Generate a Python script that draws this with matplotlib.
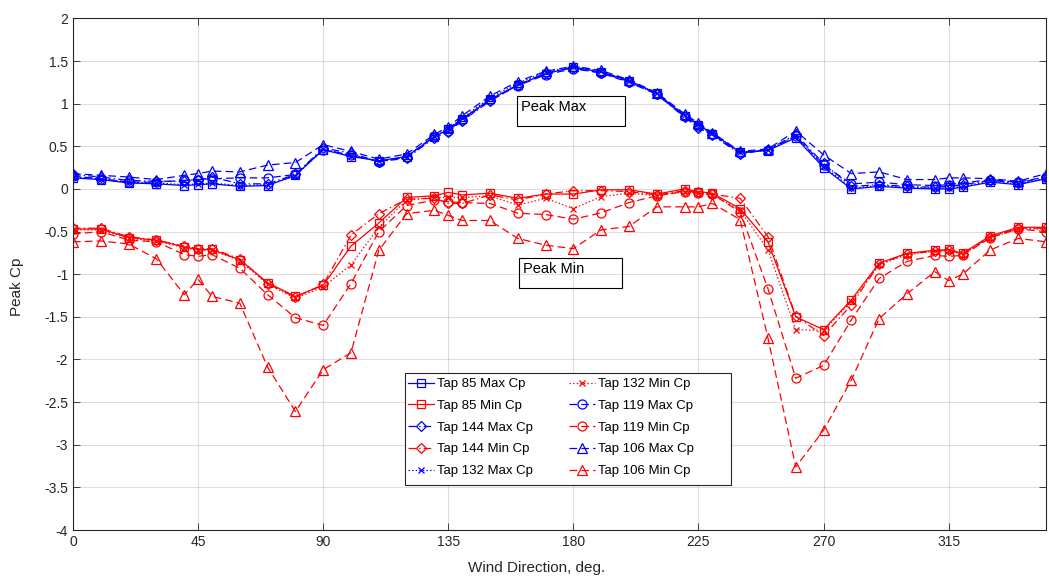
import matplotlib
matplotlib.use("Agg")
import matplotlib.pyplot as plt
from matplotlib.patches import Rectangle

plt.rcParams['font.family'] = ['Liberation Sans', 'DejaVu Sans']
plt.rcParams['lines.scale_dashes'] = False

# wind directions (deg)
angles = [0, 10, 20, 30, 40, 45, 50, 60, 70, 80, 90, 100, 110, 120, 130, 135, 140,
          150, 160, 170, 180, 190, 200, 210, 220, 225, 230, 240, 250, 260, 270,
          280, 290, 300, 310, 315, 320, 330, 340, 350]

# peak max Cp
max85 = [0.13, 0.11, 0.07, 0.06, 0.04, 0.05, 0.06, 0.03, 0.04, 0.16, 0.46, 0.38, 0.33,
         0.38, 0.61, 0.70, 0.82, 1.05, 1.22, 1.35, 1.43, 1.37, 1.27, 1.12, 0.86, 0.75,
         0.65, 0.43, 0.45, 0.60, 0.25, 0.00, 0.03, 0.01, 0.00, 0.00, 0.02, 0.08, 0.05, 0.12]
max144 = [0.17, 0.14, 0.10, 0.09, 0.09, 0.10, 0.14, 0.06, 0.06, 0.17, 0.48, 0.42, 0.32,
          0.36, 0.60, 0.67, 0.80, 1.03, 1.22, 1.36, 1.42, 1.36, 1.26, 1.11, 0.84, 0.72,
          0.63, 0.41, 0.46, 0.64, 0.30, 0.03, 0.05, 0.03, 0.02, 0.03, 0.05, 0.10, 0.07, 0.14]
max132 = [0.14, 0.12, 0.08, 0.07, 0.05, 0.06, 0.07, 0.04, 0.05, 0.15, 0.47, 0.39, 0.33,
          0.37, 0.62, 0.71, 0.83, 1.07, 1.24, 1.37, 1.44, 1.38, 1.27, 1.12, 0.87, 0.76,
          0.66, 0.43, 0.46, 0.62, 0.27, 0.01, 0.04, 0.02, 0.01, 0.01, 0.03, 0.09, 0.06, 0.12]
max119 = [0.15, 0.12, 0.08, 0.08, 0.10, 0.11, 0.12, 0.13, 0.13, 0.17, 0.46, 0.40, 0.32,
          0.38, 0.62, 0.68, 0.81, 1.04, 1.21, 1.34, 1.41, 1.36, 1.25, 1.11, 0.85, 0.74,
          0.64, 0.42, 0.46, 0.62, 0.28, 0.06, 0.08, 0.05, 0.04, 0.05, 0.07, 0.11, 0.08, 0.14]
max106 = [0.18, 0.16, 0.14, 0.11, 0.16, 0.18, 0.21, 0.20, 0.28, 0.31, 0.52, 0.44, 0.35,
          0.41, 0.64, 0.73, 0.86, 1.09, 1.26, 1.38, 1.44, 1.39, 1.28, 1.13, 0.88, 0.77,
          0.66, 0.44, 0.47, 0.68, 0.40, 0.18, 0.20, 0.11, 0.11, 0.13, 0.13, 0.12, 0.09, 0.18]

# peak min Cp
min85 = [-0.47, -0.47, -0.57, -0.60, -0.68, -0.71, -0.71, -0.83, -1.10, -1.26, -1.13,
         -0.67, -0.40, -0.10, -0.08, -0.04, -0.07, -0.05, -0.11, -0.06, -0.06, -0.01,
         -0.01, -0.06, 0.00, -0.03, -0.05, -0.23, -0.62, -1.50, -1.65, -1.30, -0.87,
         -0.755, -0.72, -0.71, -0.755, -0.55, -0.45, -0.45]
min144 = [-0.46, -0.46, -0.56, -0.60, -0.67, -0.70, -0.70, -0.82, -1.11, -1.27, -1.12,
          -0.54, -0.29, -0.12, -0.11, -0.17, -0.17, -0.07, -0.13, -0.06, -0.02, -0.02,
          -0.03, -0.07, -0.02, -0.04, -0.06, -0.11, -0.56, -1.49, -1.72, -1.36, -0.88,
          -0.76, -0.73, -0.72, -0.76, -0.56, -0.46, -0.46]
min132 = [-0.48, -0.48, -0.58, -0.61, -0.69, -0.72, -0.72, -0.84, -1.12, -1.28, -1.15,
          -0.89, -0.45, -0.13, -0.10, -0.10, -0.10, -0.08, -0.19, -0.11, -0.23, -0.09,
          -0.05, -0.08, -0.03, -0.05, -0.07, -0.25, -0.715, -1.65, -1.66, -1.32, -0.89,
          -0.77, -0.73, -0.72, -0.77, -0.57, -0.47, -0.47]
min119 = [-0.53, -0.50, -0.60, -0.62, -0.77, -0.79, -0.77, -0.93, -1.24, -1.51, -1.60,
          -1.11, -0.50, -0.195, -0.13, -0.15, -0.16, -0.17, -0.285, -0.30, -0.355, -0.28,
          -0.16, -0.08, -0.03, -0.05, -0.06, -0.27, -1.17, -2.22, -2.07, -1.535, -1.05,
          -0.85, -0.78, -0.79, -0.78, -0.57, -0.47, -0.50]
min106 = [-0.62, -0.61, -0.645, -0.82, -1.24, -1.06, -1.26, -1.34, -2.09, -2.61, -2.12,
          -1.92, -0.72, -0.29, -0.25, -0.31, -0.37, -0.37, -0.58, -0.66, -0.70, -0.48,
          -0.44, -0.21, -0.21, -0.21, -0.17, -0.36, -1.75, -3.26, -2.83, -2.24, -1.52,
          -1.23, -0.97, -1.075, -1.0, -0.715, -0.58, -0.62]

# matlab-like line styles (in points, not scaled by width)
dashed = (0, (5.5, 3.0))
dashdot = (0, (5.5, 2.2, 1.0, 2.2))
dotted = (0, (1.0, 1.6))

W, H = 1049, 583
fig = plt.figure(figsize=(W / 100, H / 100), dpi=100)
ax = fig.add_axes([0.0696, 0.0909, 0.9275, 0.8775])

series = [
    (max85, '-', 's', 6, 'b', 'Tap 85 Max Cp'),
    (min85, '-', 's', 6, 'r', 'Tap 85 Min Cp'),
    (max144, dashdot, 'D', 5, 'b', 'Tap 144 Max Cp'),
    (min144, dashdot, 'D', 5, 'r', 'Tap 144 Min Cp'),
    (max132, dotted, 'x', 5, 'b', 'Tap 132 Max Cp'),
    (min132, dotted, 'x', 5, 'r', 'Tap 132 Min Cp'),
    (max119, dashed, 'o', 6.5, 'b', 'Tap 119 Max Cp'),
    (min119, dashed, 'o', 6.5, 'r', 'Tap 119 Min Cp'),
    (max106, dashed, '^', 7.5, 'b', 'Tap 106 Max Cp'),
    (min106, dashed, '^', 7.5, 'r', 'Tap 106 Min Cp'),
]
for vals, ls, mk, ms, col, lab in series:
    ax.plot(angles, vals, linestyle=ls, marker=mk, ms=ms, color=col, lw=0.9,
            mfc='none', mew=0.9, label=lab)

ax.set_xlim(0, 350)
ax.set_ylim(-4, 2)
ax.set_xticks([0, 45, 90, 135, 180, 225, 270, 315])
ax.set_yticks([-4, -3.5, -3, -2.5, -2, -1.5, -1, -0.5, 0, 0.5, 1, 1.5, 2])
ax.set_yticklabels(['-4', '-3.5', '-3', '-2.5', '-2', '-1.5', '-1', '-0.5', '0', '0.5', '1', '1.5', '2'])
ax.grid(True, color='#262626', alpha=0.15, lw=0.8)
ax.tick_params(direction='in', length=5, top=True, right=True, labelsize=10,
               colors='#262626', width=0.6)
for s in ax.spines.values():
    s.set_color('#262626')
    s.set_linewidth(0.8)
ax.set_xlabel('Wind Direction, deg.', fontsize=11, color='#262626')
ax.set_ylabel('Peak Cp', fontsize=11, color='#262626')
ax.xaxis.set_label_coords(0.476, -0.061)
ax.yaxis.set_label_coords(-0.0505, 0.475)

# legend without its own frame, box drawn separately
leg = fig.legend(loc='upper left', bbox_to_anchor=(408 / W, 1 - 378 / H),
                 ncol=2, fontsize=9.5, frameon=False, handlelength=1.95,
                 labelspacing=0.72, columnspacing=2.75, borderaxespad=0,
                 handletextpad=0.25, borderpad=0)
fig.patches.append(Rectangle((405 / W, 1 - 485 / H), 326 / W, 112 / H, transform=fig.transFigure,
                             fill=True, fc='white', ec='#262626', lw=0.8, zorder=4))
leg.set_zorder(5)

# text boxes
for (x0, y0, w, h, txt) in [(517, 96, 108, 30, 'Peak Max'), (519, 258, 103, 30, 'Peak Min')]:
    fig.patches.append(Rectangle((x0 / W, 1 - (y0 + h) / H), w / W, h / H,
                                 transform=fig.transFigure, fill=False, ec='black', lw=0.8))
    fig.text((x0 + 4) / W, 1 - (y0 + 11) / H, txt, fontsize=10.5, va='center', ha='left')

fig.savefig('out.png', dpi=100)
